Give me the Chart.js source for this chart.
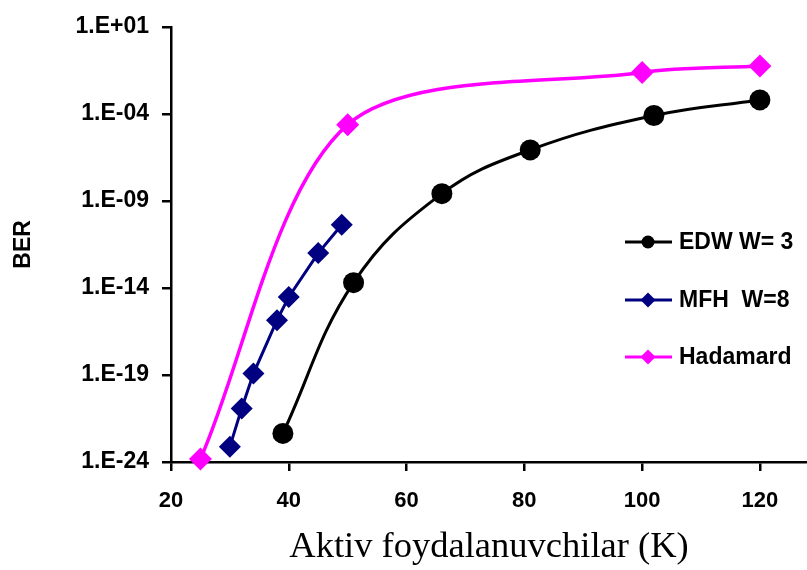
<!DOCTYPE html>
<html>
<head>
<meta charset="utf-8">
<script src="https://cdn.jsdelivr.net/npm/chart.js@4.4.0/dist/chart.umd.min.js"></script>
<style>
  html, body { margin: 0; padding: 0; background: #fff; }
  #wrap { width: 807px; height: 570px; position: relative; }
</style>
</head>
<body>
<div id="wrap"><canvas id="berChart"></canvas></div>
<script>
// values
const edwK = [39, 51, 66, 81, 102, 120];
const edwBer = [4.4e-23, 2e-14, 2.6e-9, 8.5e-7, 8e-5, 6.3e-4];
const mfhK = [30, 32, 34, 38, 40, 45, 49];
const mfhBer = [7.6e-24, 1.2e-21, 1.2e-19, 1.4e-16, 3e-15, 1e-12, 4.3e-11];
const hadK = [25, 50, 100, 120];
const hadBer = [1.5e-24, 2.4e-5, 0.024, 0.056];
const seriesNames = ['EDW W= 3', 'MFH  W=8', 'Hadamard'];
const yTickValues = [1e1, 1e-4, 1e-9, 1e-14, 1e-19, 1e-24];
const yTickLabels = ['1.E+01', '1.E-04', '1.E-09', '1.E-14', '1.E-19', '1.E-24'];
const xTickValues = [20, 40, 60, 80, 100, 120];

const toPoints = (xs, ys) => xs.map((x, i) => ({ x: x, y: ys[i] }));

function drawMarker(ctx, style, x, y, r, color) {
  ctx.fillStyle = color;
  ctx.beginPath();
  if (style === 'circle') {
    ctx.arc(x, y, r, 0, Math.PI * 2);
  } else {
    ctx.moveTo(x, y - r); ctx.lineTo(x + r, y); ctx.lineTo(x, y + r); ctx.lineTo(x - r, y);
    ctx.closePath();
  }
  ctx.fill();
}

// legend drawn inside the plot, on the right
const sideLegend = {
  id: 'sideLegend',
  afterDraw(chart) {
    const ctx = chart.ctx;
    const rows = [242, 300, 357];
    chart.data.datasets.forEach((ds, i) => {
      const y = rows[i];
      ctx.save();
      ctx.strokeStyle = ds.borderColor;
      ctx.lineWidth = 3;
      ctx.beginPath();
      ctx.moveTo(625, y);
      ctx.lineTo(672, y);
      ctx.stroke();
      drawMarker(ctx, ds.pointStyle, 648, y, ds.pointStyle === 'circle' ? 6.5 : 7.5, ds.borderColor);
      ctx.fillStyle = '#000';
      ctx.font = 'bold 23px "Liberation Sans", Arial';
      ctx.textBaseline = 'middle';
      ctx.textAlign = 'left';
      ctx.fillText(ds.label, 679, y + 1);
      ctx.restore();
    });
  }
};

new Chart(document.getElementById('berChart'), {
  type: 'line',
  data: {
    datasets: [{
      label: seriesNames[0],
      data: toPoints(edwK, edwBer),
      borderColor: '#000000',
      backgroundColor: '#000000',
      borderWidth: 3,
      pointStyle: 'circle',
      pointRadius: 10.5,
      pointBorderWidth: 0,
      tension: 0.4
    }, {
      label: seriesNames[1],
      data: toPoints(mfhK, mfhBer),
      borderColor: '#000080',
      backgroundColor: '#000080',
      borderWidth: 3,
      pointStyle: 'rectRot',
      pointRadius: 11,
      pointBorderWidth: 0,
      tension: 0
    }, {
      label: seriesNames[2],
      data: toPoints(hadK, hadBer),
      borderColor: '#ff00ff',
      backgroundColor: '#ff00ff',
      borderWidth: 3.5,
      pointStyle: 'rectRot',
      pointRadius: 11.5,
      pointBorderWidth: 0,
      tension: 0.3
    }]
  },
  options: {
    responsive: true,
    maintainAspectRatio: false,
    animation: false,
    clip: false,
    layout: { autoPadding: false, padding: { top: 26, right: 0, left: 0, bottom: 0 } },
    plugins: { legend: { display: false }, tooltip: { enabled: false } },
    scales: {
      x: {
        type: 'linear',
        min: 20,
        max: 128,
        afterBuildTicks: s => { s.ticks = xTickValues.map(v => ({ value: v })); },
        afterFit: s => { s.height = 108; s.paddingRight = 0; s.paddingLeft = 0; },
        grid: { drawOnChartArea: false, drawTicks: true, tickLength: 9, color: '#000', lineWidth: 2.5 },
        border: { display: true, color: '#000', width: 2.5 },
        ticks: { color: '#000', font: { family: 'Liberation Sans, Arial', size: 22, weight: 'bold' }, padding: 17, maxRotation: 0 },
        title: {
          display: true,
          text: 'Aktiv foydalanuvchilar (K)',
          color: '#000',
          font: { family: 'Liberation Serif, Times New Roman', size: 36.5, weight: 'normal' },
          padding: { top: 0, bottom: 1 }
        }
      },
      y: {
        type: 'logarithmic',
        min: 1e-24,
        max: 1e1,
        afterBuildTicks: s => { s.ticks = yTickValues.map(v => ({ value: v })); },
        afterFit: s => { s.width = 171; },
        grid: { drawOnChartArea: false, drawTicks: true, tickLength: 9, color: '#000', lineWidth: 2.5 },
        border: { display: true, color: '#000', width: 2.5 },
        ticks: {
          color: '#000',
          font: { family: 'Liberation Sans, Arial', size: 23, weight: 'bold' },
          padding: 13,
          callback: v => {
            const i = yTickValues.findIndex(t => Math.abs(Math.log10(t) - Math.log10(v)) < 1e-6);
            return i >= 0 ? yTickLabels[i] : '';
          }
        },
        title: {
          display: true,
          text: 'BER',
          color: '#000',
          font: { family: 'Liberation Sans, Arial', size: 23, weight: 'bold' },
          padding: { top: 10, bottom: 0 }
        }
      }
    }
  },
  plugins: [sideLegend]
});
</script>
</body>
</html>
